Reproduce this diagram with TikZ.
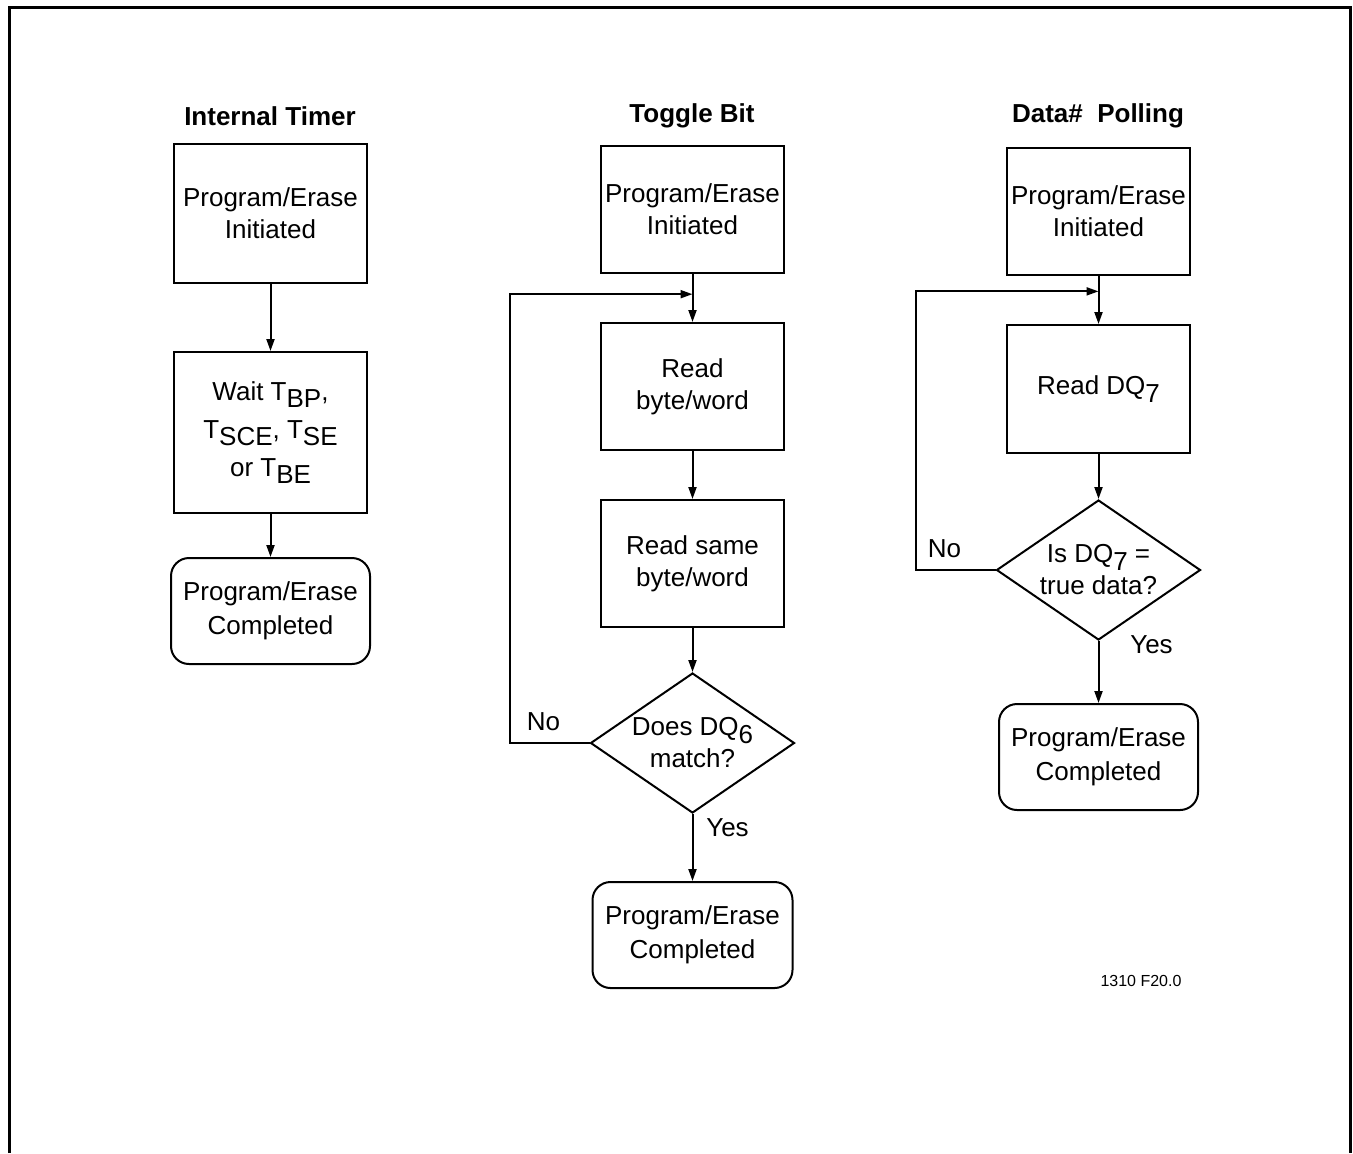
\documentclass[tikz,border=0pt]{standalone}
\usepackage{fontspec}
\setmainfont{Liberation Sans}
\usetikzlibrary{positioning, arrows.meta, calc, shapes.geometric}
\newcommand{\lowsub}[1]{\raisebox{-0.3em}{#1}}

\begin{document}
\begin{tikzpicture}[x=0.5pt, y=-0.5pt,
	every node/.style={font=\fontsize{13}{16}\selectfont, align=center},
	box/.style={draw, line width=1pt, minimum width=91.5pt, minimum height=63.5pt, inner sep=0pt},
	endbox/.style={draw, line width=1pt, rounded corners=9pt, minimum width=100pt, minimum height=53pt, inner sep=0pt},
	test/.style={draw, diamond, aspect=1.46, line width=1pt, minimum width=102pt, minimum height=70pt, inner sep=0pt},
	heading/.style={font=\fontsize{13}{16}\selectfont\bfseries},
	lbl/.style={inner sep=0pt},
	flow/.style={line width=1pt, -{Triangle[length=6pt,width=4pt]}}]
	\useasboundingbox (0,0) rectangle (1353,1153);
	\draw[line width=1.5pt] (9,1153) |- (1350.5,7.5) -- (1350.5,1153);

	% internal timer
	\node[heading] (ttl1) at (270,116) {Internal Timer};
	\node[box, minimum width=96.5pt, minimum height=69.5pt] (it1) at (270.5,213.5) {Program/Erase\\Initiated};
	\node[box, minimum width=96.5pt, minimum height=80.5pt, below=33.5pt of it1, font=\fontsize{13}{19}\selectfont] (it2)
		{Wait T\lowsub{BP},\\T\lowsub{SCE}, T\lowsub{SE}\\or T\lowsub{BE}};
	\node[endbox, minimum width=99.5pt, below=21.5pt of it2, font=\fontsize{13}{17}\selectfont] (it3) {Program/Erase\\Completed};
	\draw[flow] (it1) -- (it2);
	\draw[flow] (it2) -- (it3);

	% toggle bit
	\node[heading] (ttl2) at (692,116) {Toggle Bit};
	\node[box] (tb1) at (692.5,209.5) {Program/Erase\\Initiated};
	\node[box, below=24pt of tb1] (tb2) {Read\\byte/word};
	\node[box, below=24pt of tb2] (tb3) {Read same\\byte/word};
	\node[test, below=22pt of tb3] (tb4) {Does DQ\lowsub{6}\\match?};
	\node[endbox, below=33.5pt of tb4, font=\fontsize{13}{17}\selectfont] (tb5) {Program/Erase\\Completed};
	\coordinate (tbj) at ($(tb1.south)!0.42!(tb2.north)$);
	\draw[flow] (tb1) -- (tb2);
	\draw[flow] (tb2) -- (tb3);
	\draw[flow] (tb3) -- (tb4);
	\draw[flow] (tb4) -- (tb5);
	\draw[flow] (tb4.west) -- ++(-80,0) |- (tbj);
	\node[lbl] at ($(tb4.west)+(-46,-21)$) {No};
	\node[lbl] at ($(tb4.south)+(35,14)$) {Yes};

	% data# polling
	\node[heading] (ttl3) at (1098,116) {Data\#\ \ Polling};
	\node[box] (dp1) at (1098.5,211.5) {Program/Erase\\Initiated};
	\node[box, minimum height=64pt, below=24pt of dp1] (dp2) {Read DQ\lowsub{7}};
	\node[test, below=22.5pt of dp2] (dp3) {Is DQ\lowsub{7} =\\true data?};
	\node[endbox, minimum width=99.5pt, below=31pt of dp3, font=\fontsize{13}{17}\selectfont] (dp4) {Program/Erase\\Completed};
	\coordinate (dpj) at ($(dp1.south)!0.32!(dp2.north)$);
	\draw[flow] (dp1) -- (dp2);
	\draw[flow] (dp2) -- (dp3);
	\draw[flow] (dp3) -- (dp4);
	\draw[flow] (dp3.west) -- ++(-80,0) |- (dpj);
	\node[lbl] at ($(dp3.west)+(-51,-21)$) {No};
	\node[lbl] at ($(dp3.south)+(53,4)$) {Yes};

	\node[font=\fontsize{8}{10}\selectfont] (fig) at (1141,981) {1310 F20.0};
\end{tikzpicture}
\end{document}
